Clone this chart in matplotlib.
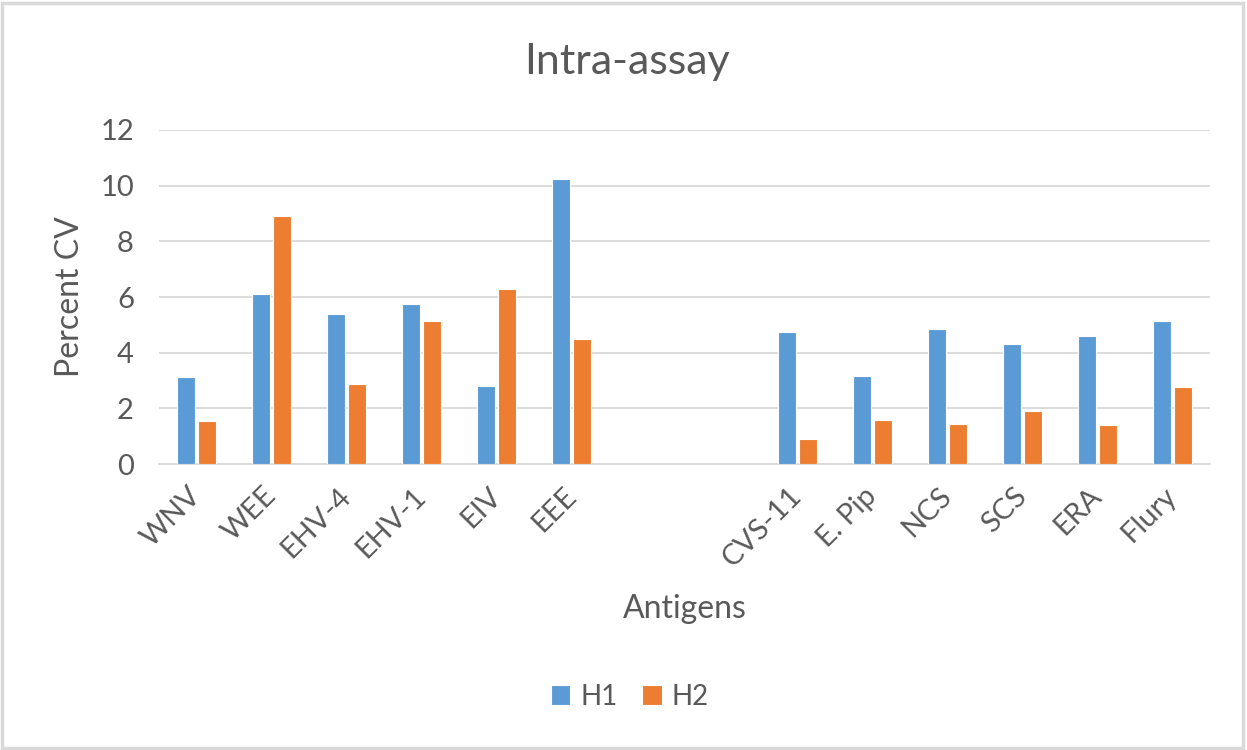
import matplotlib
matplotlib.use("Agg")
import matplotlib.pyplot as plt
import numpy as np
from matplotlib.patches import Rectangle

plt.rcParams['font.family'] = ['Lato', 'DejaVu Sans']

# data (two blank slots separate the groups)
antigens = ['WNV', 'WEE', 'EHV-4', 'EHV-1', 'EIV', 'EEE', '', '',
            'CVS-11', 'E. Pip', 'NCS', 'SCS', 'ERA', 'Flury']
h1 = [3.11, 6.10, 5.39, 5.75, 2.81, 10.23, np.nan, np.nan,
      4.73, 3.17, 4.85, 4.31, 4.61, 5.15]
h2 = [1.56, 8.91, 2.87, 5.15, 6.28, 4.49, np.nan, np.nan,
      0.91, 1.57, 1.45, 1.92, 1.39, 2.75]

blue = '#5B9BD5'
orange = '#ED7D31'
txt = '#595959'
grid = '#D9D9D9'

fig = plt.figure(figsize=(12.47, 7.5), dpi=100)
fig.patch.set_facecolor('white')
ax = fig.add_axes([0.1275, 0.3813, 0.8428, 0.4454])

x = np.arange(len(antigens))
w = 0.24
ax.bar(x - 0.14, h1, w, color=blue, edgecolor='white', linewidth=0.8, label='H1', zorder=3)
ax.bar(x + 0.14, h2, w, color=orange, edgecolor='white', linewidth=0.8, label='H2', zorder=3)

ax.set_xlim(-0.5, len(antigens) - 0.5)
ax.set_ylim(0, 12)
ax.set_yticks(range(0, 13, 2))
ax.yaxis.grid(True, color=grid, linewidth=1.3, zorder=0)
ax.set_axisbelow(True)
for s in ['top', 'right', 'left']:
    ax.spines[s].set_visible(False)
ax.spines['bottom'].set_color(grid)
ax.spines['bottom'].set_linewidth(1.3)
ax.tick_params(axis='both', length=0, colors=txt, labelsize=21)
ax.tick_params(axis='y', pad=18)
ax.tick_params(axis='x', pad=20)

ax.set_xticks(x)
ax.set_xticklabels(antigens, rotation=45, ha='right', va='center', rotation_mode='anchor')

ax.set_xlabel('Antigens', fontsize=23, color=txt, labelpad=16)
ax.set_ylabel('Percent CV', fontsize=23, color=txt, labelpad=11)
fig.text(0.503, 0.917, 'Intra-assay', ha='center', va='center', fontsize=31, color=txt)

leg = fig.legend(loc='center', bbox_to_anchor=(0.505, 0.071), ncol=2, frameon=False,
                 fontsize=20, handlelength=0.7, handleheight=0.7, handletextpad=0.35,
                 columnspacing=0.9)
for t in leg.get_texts():
    t.set_color(txt)

# light grey frame round the chart
fig.patches.append(Rectangle((0.002, 0.003), 0.995, 0.993, transform=fig.transFigure,
                             fill=False, edgecolor='#D9D9D9', linewidth=2.5))

fig.savefig('out.png', dpi=100)
